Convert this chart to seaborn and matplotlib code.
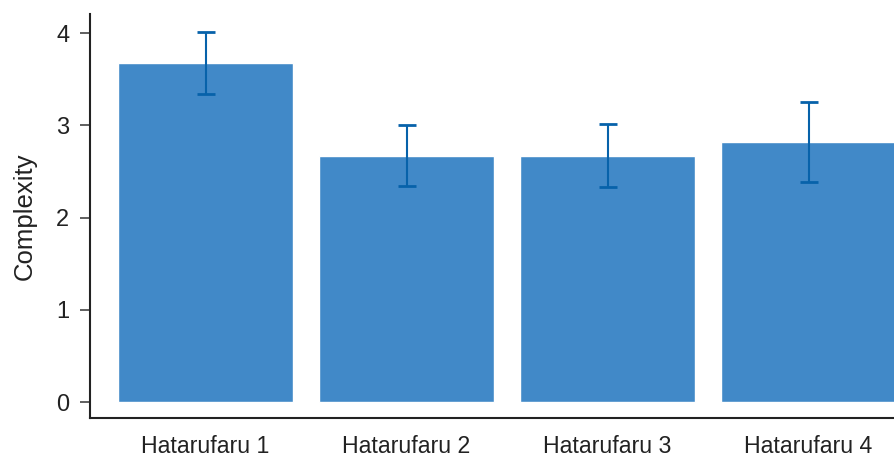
import matplotlib
matplotlib.use("Agg")
import matplotlib.pyplot as plt
import seaborn as sns
import numpy as np
import pandas as pd

categories = ["Hatarufaru 1", "Hatarufaru 2", "Hatarufaru 3", "Hatarufaru 4"]
values = [3.67, 2.67, 2.67, 2.82]
err_low = [3.34, 2.34, 2.33, 2.39]
err_high = [4.01, 3.00, 3.01, 3.25]
yticks = [0, 1, 2, 3, 4]

sns.set_theme(style="ticks")
plt.rcParams['font.family'] = ['Liberation Sans', 'DejaVu Sans']

fig = plt.figure(figsize=(8.95, 4.59), dpi=100)
ax = fig.add_axes([90/895, 41/459, 805/895, 404/459])

df = pd.DataFrame({"cat": categories, "val": values})
sns.barplot(data=df, x="cat", y="val", color="#4189C8", saturation=1, width=0.87,
            errorbar=None, ax=ax)

x = np.arange(len(categories))
vals = np.array(values)
lo = vals - np.array(err_low)
hi = np.array(err_high) - vals
ax.errorbar(x, vals, yerr=[lo, hi], fmt="none", ecolor="#0762AA", elinewidth=1.5,
            capsize=6.5, capthick=2)

txt = "#222222"
ax.set_xlim(-0.575, 3.43)
ax.set_ylim(-0.173, 4.206)
ax.set_yticks(yticks)
ax.set_yticklabels([str(t) for t in yticks], fontsize=17, color=txt)
ax.set_xlabel("")
ax.set_ylabel("Complexity", fontsize=18.5, color=txt, labelpad=14)
for lbl in ax.get_xticklabels():
    lbl.set_fontsize(16.7)
    lbl.set_color(txt)
ax.tick_params(axis="x", length=0, pad=12)
ax.tick_params(axis="y", length=7, width=1.2, color="#444444", pad=8)
sns.despine(ax=ax)
ax.spines["left"].set_linewidth(1.5)
ax.spines["bottom"].set_linewidth(1.5)
ax.spines["left"].set_color("#222222")
ax.spines["bottom"].set_color("#222222")

fig.savefig("out.png", dpi=100)
